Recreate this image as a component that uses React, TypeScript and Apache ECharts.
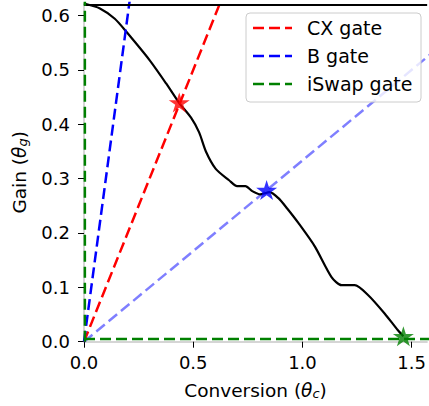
import React, { useEffect, useRef } from "react";
import * as echarts from "echarts";

// Main trajectory (conversion θc, gain θg)
const curveX = [0, 0.073, 0.141, 0.194, 0.30, 0.376, 0.436, 0.49, 0.527, 0.558, 0.603, 0.664, 0.701, 0.739, 0.770, 0.807, 0.85, 0.89, 0.93, 0.982, 1.057, 1.133, 1.179, 1.239, 1.30, 1.376, 1.436, 1.462];
const curveY = [0.622, 0.613, 0.594, 0.570, 0.518, 0.475, 0.439, 0.412, 0.385, 0.350, 0.318, 0.297, 0.286, 0.286, 0.277, 0.271, 0.275, 0.264, 0.245, 0.218, 0.175, 0.119, 0.104, 0.104, 0.086, 0.052, 0.0215, 0.01];

// Upper boundary level along the top of the plot
const topLevel = 0.6215;

// Gate lines through the origin
const cxLineX = [0, 1];
const cxLineY = [0, 1];
const bLineX = [0, 1];
const bLineY = [0, 3];
const bLine2X = [0, 2];
const bLine2Y = [0, 0.6667];
const iswapVX = [0.004, 0.004];
const iswapVY = [0, 1];
const iswapHX = [0, 2];
const iswapHY = [0.005, 0.005];

// Gate points (stars)
const cxPoint = [0.436, 0.44];
const bPoint = [0.836, 0.279];
const iswapPoint = [1.462, 0.01];

const X_MAX = Math.PI / 2;
const Y_MAX = 0.623;
const xTicks = [0, 0.5, 1.0, 1.5];
const yTicks = [0, 0.1, 0.2, 0.3, 0.4, 0.5, 0.6];

const legendNames = ["CX gate", "B gate", "iSwap gate"];
const legendColors = ["#ff0000", "#0000ff", "#008000"];

const STAR = "path://M50,0 L61.23,34.55 L97.55,34.55 L68.17,55.9 L79.39,90.45 L50,69.1 L20.61,90.45 L31.83,55.9 L2.45,34.55 L38.77,34.55 Z";

const FONT = "DejaVu Sans";
const zip = (xs: number[], ys: number[]) => xs.map((x, i) => [x, ys[i]]);

export default function App() {
  const ref = useRef<HTMLDivElement>(null);
  useEffect(() => {
    if (!ref.current) return;
    const chart = echarts.init(ref.current, undefined, { renderer: "svg" });
    const dash = { type: [11, 5] as any, width: 2.5 };
    const legendGraphics: any[] = [
      {
        type: "rect",
        shape: { x: 246, y: 13, width: 175, height: 89, r: 4 },
        style: { fill: "rgba(255,255,255,0.8)", stroke: "#cccccc", lineWidth: 1 },
        z: 100,
      },
    ];
    legendNames.forEach((name, i) => {
      const y = 28 + i * 28;
      legendGraphics.push({
        type: "line",
        shape: { x1: 253, y1: y, x2: 292, y2: y },
        style: { stroke: legendColors[i], lineWidth: 2.5, lineDash: [11, 5] },
        z: 101,
      });
      legendGraphics.push({
        type: "text",
        x: 307,
        y: y,
        style: { text: name, font: `19px "${FONT}"`, fill: "#000", verticalAlign: "middle" },
        z: 101,
      });
    });

    const richName = {
      t: { fontFamily: FONT, fontSize: 18.5, fontStyle: "italic", color: "#000" },
      s: { fontFamily: FONT, fontSize: 13, fontStyle: "italic", color: "#000", verticalAlign: "bottom", padding: [6, 0, 0, 0] },
    };

    chart.setOption({
      animation: false,
      grid: { left: 84, right: 0, top: 3, bottom: 64.3, containLabel: false },
      xAxis: {
        type: "value",
        min: 0,
        max: X_MAX,
        interval: 0.5,
        name: "Conversion ({t|θ}{s|c})",
        nameLocation: "middle",
        nameGap: 39.5,
        nameTextStyle: { fontFamily: FONT, fontSize: 18.5, color: "#000", rich: richName },
        axisLine: { show: true, lineStyle: { color: "#c8c8c8", width: 1.5 } },
        axisTick: { show: true, length: 6, lineStyle: { color: "#000", width: 1 } },
        axisLabel: {
          fontFamily: FONT,
          fontSize: 18,
          color: "#000",
          margin: 12,
          showMaxLabel: false,
          formatter: (v: number) => (xTicks.some((t) => Math.abs(t - v) < 1e-9) ? v.toFixed(1) : ""),
        },
        splitLine: { show: false },
      },
      yAxis: {
        type: "value",
        min: 0,
        max: Y_MAX,
        interval: 0.1,
        name: "Gain ({t|θ}{s|g})",
        nameLocation: "middle",
        nameRotate: 90,
        nameGap: 55,
        nameTextStyle: { fontFamily: FONT, fontSize: 18.5, color: "#000", rich: richName },
        axisLine: { show: true, lineStyle: { color: "#c8c8c8", width: 1.5 } },
        axisTick: { show: true, length: 6, lineStyle: { color: "#000", width: 1 } },
        axisLabel: {
          fontFamily: FONT,
          fontSize: 18,
          color: "#000",
          margin: 14,
          showMaxLabel: false,
          formatter: (v: number) => (yTicks.some((t) => Math.abs(t - v) < 1e-9) ? v.toFixed(1) : ""),
        },
        splitLine: { show: false },
      },
      graphic: legendGraphics,
      series: [
        {
          type: "line",
          data: zip(bLine2X, bLine2Y),
          showSymbol: false,
          lineStyle: { ...dash, color: "rgba(0,0,255,0.5)" },
          z: 2,
        },
        {
          type: "line",
          data: zip(curveX, curveY),
          showSymbol: false,
          smooth: 0.25,
          lineStyle: { color: "#000", width: 2.2 },
          markLine: {
            silent: true,
            symbol: ["none", "none"],
            label: { show: false },
            lineStyle: { color: "#000", width: 2, type: "solid" },
            data: [{ yAxis: topLevel }],
          },
          z: 3,
        },
        {
          type: "line",
          data: zip(cxLineX, cxLineY),
          showSymbol: false,
          lineStyle: { ...dash, color: "#ff0000" },
          z: 4,
        },
        {
          type: "line",
          data: zip(bLineX, bLineY),
          showSymbol: false,
          lineStyle: { ...dash, color: "#0000ff" },
          z: 4,
        },
        {
          type: "line",
          data: zip(iswapVX, iswapVY),
          showSymbol: false,
          lineStyle: { ...dash, color: "#008000" },
          z: 5,
        },
        {
          type: "line",
          data: zip(iswapHX, iswapHY),
          showSymbol: false,
          lineStyle: { ...dash, color: "#008000" },
          z: 5,
        },
        {
          type: "scatter",
          data: [cxPoint],
          symbol: STAR,
          symbolKeepAspect: true,
          symbolSize: 21,
          itemStyle: { color: "#ff0000" },
          z: 6,
        },
        {
          type: "scatter",
          data: [bPoint],
          symbol: STAR,
          symbolKeepAspect: true,
          symbolSize: 21,
          itemStyle: { color: "#0000ff" },
          z: 6,
        },
        {
          type: "scatter",
          data: [iswapPoint],
          symbol: STAR,
          symbolKeepAspect: true,
          symbolSize: 21,
          itemStyle: { color: "#008000" },
          clip: false,
          z: 6,
        },
      ],
    });
    return () => chart.dispose();
  }, []);
  return <div ref={ref} style={{ position: "absolute", left: 0, top: 0, width: 429, height: 406 }} />;
}
